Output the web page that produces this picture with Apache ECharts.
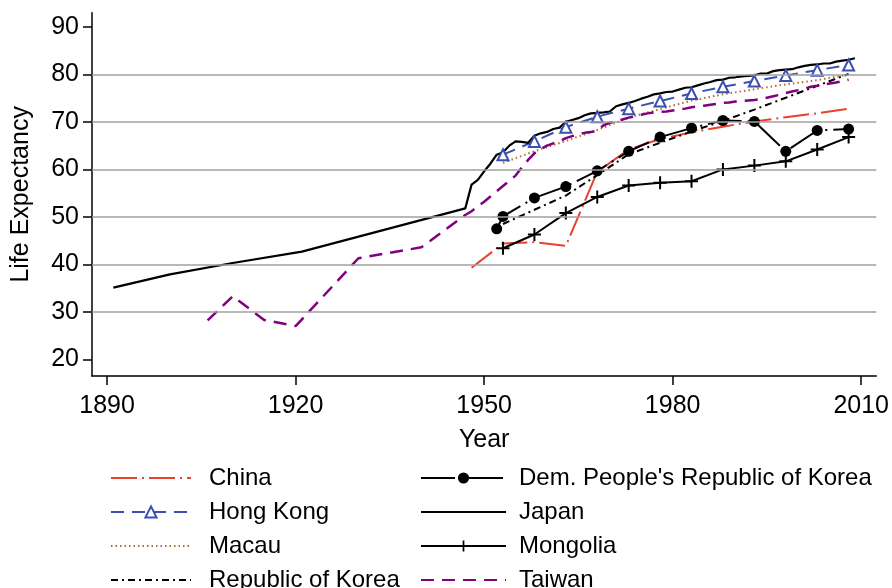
<!DOCTYPE html>
<html><head><meta charset="utf-8">
<script src="https://cdn.jsdelivr.net/npm/echarts@6/dist/echarts.min.js"></script>
<style>html,body{margin:0;padding:0;background:#fff}#c{width:892px;height:588px}</style>
</head><body><div id="c"></div>
<script>
const FONT = "'Liberation Sans',Arial,Helvetica,sans-serif";

const xTicks = [1890, 1920, 1950, 1980, 2010];
const yTicks = [20, 30, 40, 50, 60, 70, 80, 90];
const gridValues = [30, 40, 50, 60, 70, 80];

const fiveYears = [1953, 1958, 1963, 1968, 1973, 1978, 1983, 1988, 1993, 1998, 2003, 2008];

const chinaYears = [1948, 1953, 1958, 1963, 1968, 1973, 1978, 1983, 1988, 1993, 1998, 2003, 2008];
const chinaValues = [39.3, 44.4, 44.7, 43.9, 59.5, 64.2, 66.4, 67.8, 69.0, 70.1, 71.0, 71.8, 72.8];

const hongKongValues = [63.1, 65.9, 68.9, 71.1, 72.8, 74.4, 76.0, 77.4, 78.6, 79.8, 80.9, 82.0];
const macauValues = [61.4, 63.8, 66.0, 68.3, 70.9, 72.7, 74.5, 75.8, 76.9, 77.9, 78.8, 80.0];
const rokValues = [48.5, 51.5, 54.5, 58.8, 63.2, 65.6, 68.0, 70.2, 72.6, 75.1, 77.6, 80.1];
const mongoliaValues = [43.4, 46.3, 50.8, 54.2, 56.6, 57.2, 57.5, 60.0, 60.8, 61.7, 64.2, 66.8];

const dprkYears = [1952, 1953, 1958, 1963, 1968, 1973, 1978, 1983, 1988, 1993, 1998, 2003, 2008];
const dprkValues = [47.5, 50.1, 54.0, 56.4, 59.7, 63.8, 66.8, 68.7, 70.3, 70.1, 63.8, 68.2, 68.5];

const japanYears = [1891, 1900, 1910, 1921, 1947, 1948, 1949, 1950, 1951, 1952, 1953, 1954, 1955, 1956, 1957, 1958, 1959,
  1960, 1961, 1962, 1963, 1964, 1965, 1966, 1967, 1968, 1969, 1970, 1971, 1972, 1973, 1974, 1975, 1976, 1977, 1978, 1979,
  1980, 1981, 1982, 1983, 1984, 1985, 1986, 1987, 1988, 1989, 1990, 1991, 1992, 1993, 1994, 1995, 1996, 1997, 1998, 1999,
  2000, 2001, 2002, 2003, 2004, 2005, 2006, 2007, 2008, 2009];
const japanValues = [35.1, 37.9, 40.3, 42.7, 51.8, 56.8, 57.8, 59.6, 61.2, 63.1, 63.6, 65.0, 65.9, 65.8, 65.6, 67.1, 67.6,
  67.9, 68.5, 68.8, 70.0, 70.4, 70.8, 71.4, 71.8, 71.9, 72.0, 72.2, 73.3, 73.7, 74.0, 74.4, 74.9, 75.3, 75.8, 76.0, 76.3,
  76.4, 76.8, 77.2, 77.3, 77.7, 78.1, 78.4, 78.8, 78.9, 79.3, 79.4, 79.6, 79.7, 79.8, 80.2, 80.2, 80.7, 80.9, 81.0, 81.1,
  81.5, 81.8, 82.0, 82.1, 82.3, 82.3, 82.7, 82.9, 83.1, 83.4];

const taiwanYears = [1906, 1910, 1915, 1920, 1930, 1940, 1947, 1948, 1949, 1950, 1951, 1952, 1953, 1954, 1955, 1956, 1957,
  1958, 1959, 1960, 1961, 1962, 1963, 1964, 1965, 1966, 1967, 1968, 1969, 1970, 1971, 1972, 1973, 1974, 1975, 1976, 1977,
  1978, 1979, 1980, 1981, 1982, 1983, 1984, 1985, 1986, 1987, 1988, 1989, 1990, 1991, 1992, 1993, 1994, 1995, 1996, 1997,
  1998, 1999, 2000, 2001, 2002, 2003, 2004, 2005, 2006, 2007, 2008];
const taiwanValues = [28.2, 33.3, 28.3, 27.0, 41.3, 43.6, 50.4, 51.2, 52.2, 53.2, 54.3, 55.4, 56.5, 57.6, 58.7, 60.4, 62.0,
  63.4, 64.3, 65.0, 65.5, 65.9, 66.6, 67.0, 67.4, 67.7, 67.9, 68.1, 69.3, 69.8, 70.2, 70.5, 70.9, 71.2, 71.5, 71.8, 72.0,
  72.1, 72.2, 72.4, 72.6, 72.8, 73.1, 73.3, 73.4, 73.6, 73.8, 74.0, 74.1, 74.3, 74.4, 74.5, 74.6, 74.8, 75.1, 75.4, 75.7,
  76.1, 76.4, 76.7, 77.0, 77.4, 77.6, 77.9, 78.1, 78.3, 78.6, 78.9];

const leftNames = ['China', 'Hong Kong', 'Macau', 'Republic of Korea'];
const rightNames = ["Dem. People's Republic of Korea", 'Japan', 'Mongolia', 'Taiwan'];
const markedNames = ['Hong Kong', "Dem. People's Republic of Korea", 'Mongolia'];

const pairs = (xs, ys) => xs.map((x, i) => [x, ys[i]]);
const PLUS = 'path://M5.5,0H7.5V5.5H13V7.5H7.5V13H5.5V7.5H0V5.5H5.5Z';
const BLUE = '#3a4fb0', RED = '#e8412c', BROWN = '#b06a30', PURPLE = '#800080';

const chart = echarts.init(document.getElementById('c'), null, {renderer: 'canvas'});

const axisTxt = {fontFamily: FONT, fontSize: 25, color: '#000'};
const legTxt = {fontFamily: FONT, fontSize: 24, color: '#000', lineHeight: 28};

const legendItems = names => names.map(n => markedNames.includes(n)
  ? {name: n}
  : {name: n, itemStyle: {color: 'rgba(0,0,0,0)', borderWidth: 0, opacity: 0}});

const mk = (name, data, color, width, type, extra) => Object.assign({
  name, type: 'line', data, z: 3, animation: false, symbol: 'none',
  lineStyle: {color, width, type}, itemStyle: {color}
}, extra || {});

const option = {
  animation: false,
  backgroundColor: '#fff',
  grid: {left: 92, right: 15, top: 12.7, bottom: 212, containLabel: false},
  xAxis: {
    type: 'value', min: 1887.6, max: 2012.4,
    axisLine: {show: true, onZero: false, lineStyle: {color: '#000', width: 1.5}},
    axisTick: {show: true, length: 9, customValues: xTicks, lineStyle: {color: '#000', width: 1.5}},
    axisLabel: Object.assign({customValues: xTicks, margin: 18, formatter: v => String(v)}, axisTxt),
    splitLine: {show: false},
    name: 'Year', nameLocation: 'middle', nameGap: 52, nameTextStyle: axisTxt
  },
  yAxis: {
    type: 'value', min: 16.5, max: 93.0,
    axisLine: {show: true, onZero: false, lineStyle: {color: '#000', width: 1.5}},
    axisTick: {show: true, length: 9, customValues: yTicks, lineStyle: {color: '#000', width: 1.5}},
    axisLabel: Object.assign({customValues: yTicks, margin: 13, formatter: v => String(v)}, axisTxt),
    splitLine: {show: false},
    name: 'Life Expectancy', nameLocation: 'middle', nameGap: 58, nameRotate: 90, nameTextStyle: axisTxt
  },
  legend: [
    {data: legendItems(leftNames), orient: 'horizontal', left: 110, top: 464, width: 300, padding: 0,
     itemWidth: 80, itemHeight: 14, itemGap: 6,
     textStyle: Object.assign({padding: [0, 0, 0, 13]}, legTxt), selectedMode: false},
    {data: legendItems(rightNames), orient: 'horizontal', left: 420, top: 464, width: 300, padding: 0,
     itemWidth: 85, itemHeight: 14, itemGap: 6,
     textStyle: Object.assign({padding: [0, 0, 0, 8]}, legTxt), selectedMode: false}
  ],
  series: [
    {name: 'grid', type: 'line', data: [], z: 1, silent: true,
     markLine: {silent: true, symbol: 'none', animation: false, label: {show: false},
       lineStyle: {color: '#a0a0a0', width: 1.5, type: 'solid'},
       data: gridValues.map(v => ({yAxis: v}))}},
    mk('China', pairs(chinaYears, chinaValues), RED, 2, [26, 5, 2, 5]),
    mk('Hong Kong', pairs(fiveYears, hongKongValues), BLUE, 2, [13, 8],
      {symbol: 'triangle', symbolSize: 11, showSymbol: true, itemStyle: {color: '#fff', borderColor: BLUE, borderWidth: 2}}),
    mk('Macau', pairs(fiveYears, macauValues), BROWN, 2, [1.5, 3]),
    mk('Republic of Korea', pairs(fiveYears, rokValues), '#000', 2, [7, 4, 2, 4]),
    mk("Dem. People's Republic of Korea", pairs(dprkYears, dprkValues), '#000', 2, [34, 6, 2, 6],
      {symbol: 'circle', symbolSize: 11, showSymbol: true, itemStyle: {color: '#000'}}),
    mk('Japan', pairs(japanYears, japanValues), '#000', 2.2, 'solid'),
    mk('Mongolia', pairs(fiveYears, mongoliaValues), '#000', 2, 'solid',
      {symbol: PLUS, symbolSize: 13, showSymbol: true, itemStyle: {color: '#000'}}),
    mk('Taiwan', pairs(taiwanYears, taiwanValues), PURPLE, 2.5, [13, 8])
  ]
};
chart.setOption(option);
</script>
</body></html>
